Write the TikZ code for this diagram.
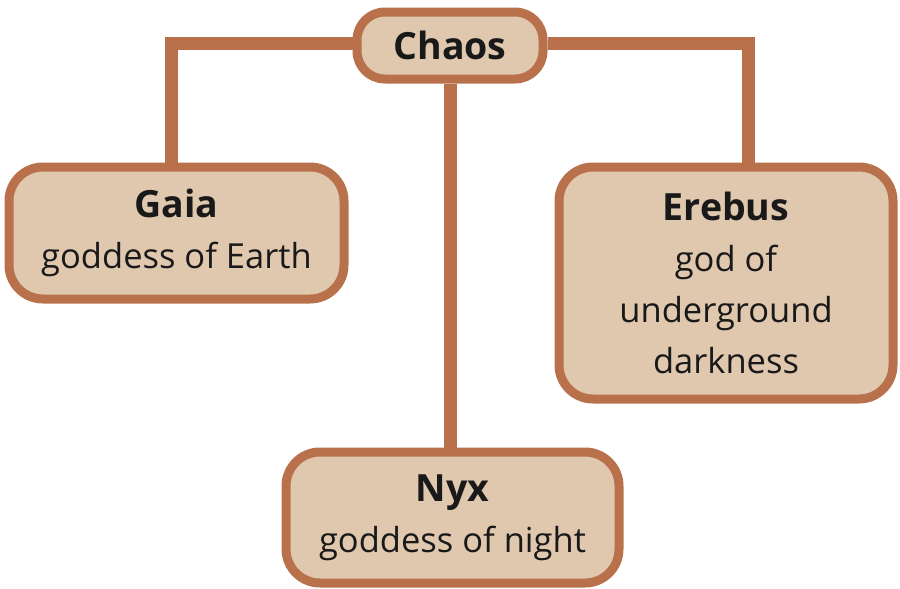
\documentclass[tikz,border=0pt]{standalone}
\usepackage{fontspec}
\setmainfont{Open Sans}
\usepackage{tikz}
\usetikzlibrary{positioning}

\definecolor{rim}{HTML}{B9714C}
\definecolor{sand}{HTML}{E0C8AF}

\tikzset{
  godbox/.style={draw=rim, fill=sand, line width=9pt, rounded corners=34pt,
    align=center, inner sep=0pt, text=black!90,
    font=\fontsize{34.5}{51}\selectfont},
  link/.style={draw=rim, line width=13pt},
}
\newcommand{\godname}[1]{{\fontsize{37.5}{51}\selectfont\bfseries #1}}

\begin{document}
\begin{tikzpicture}[x=1pt, y=-1pt]
            \useasboundingbox (0,0) rectangle (900,589);
            \draw (450,45.5) node[godbox, rounded corners=28pt, minimum width=186pt, minimum height=67pt] (chaos) {\godname{Chaos}};
            \draw (176.5,233) node[godbox, minimum width=335pt, minimum height=132pt] (gaia) {\godname{Gaia}\\goddess of Earth};
            \draw (726,283) node[godbox, minimum width=334pt, minimum height=232pt] (erebus) {\godname{Erebus}\\god of\\underground\\darkness};
            \draw (452.5,517.5) node[godbox, minimum width=333pt, minimum height=131pt] (nyx) {\godname{Nyx}\\goddess of night};
            \draw[link] ([yshift=2pt]chaos.west) -| ([xshift=-5pt]gaia.north);
            \draw[link] ([yshift=2pt]chaos.east) -| ([xshift=22pt]erebus.north);
            \draw[link] (chaos.south) -- (chaos.south |- nyx.north);
\end{tikzpicture}
\end{document}
